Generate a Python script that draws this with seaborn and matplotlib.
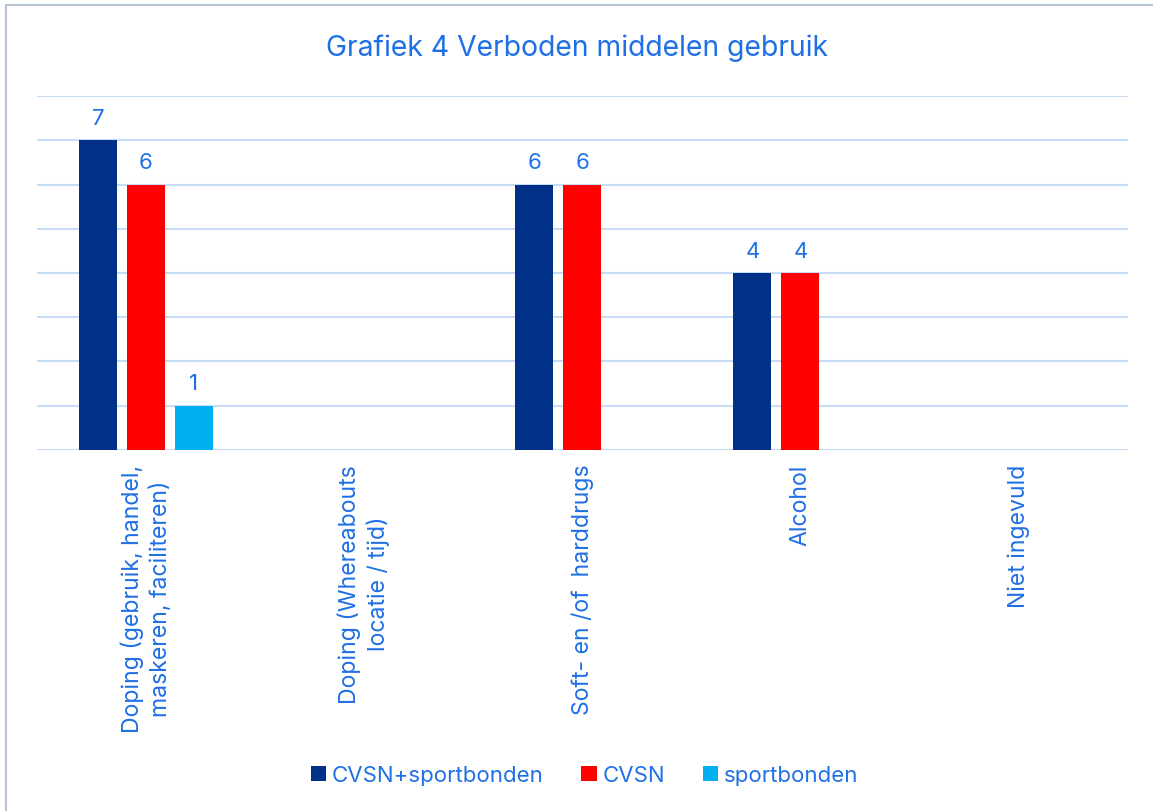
import pandas as pd
import numpy as np
import matplotlib.pyplot as plt
import seaborn as sns
from matplotlib.lines import Line2D
from matplotlib.patches import Patch

categorieen = [
    "Doping (gebruik, handel,\nmaskeren, faciliteren)",
    "Doping (Whereabouts\nlocatie / tijd)",
    "Soft- en /of  harddrugs",
    "Alcohol",
    "Niet ingevuld",
]
reeksen = ["CVSN+sportbonden", "CVSN", "sportbonden"]
cvsn_sportbonden = [7, np.nan, 6, 4, np.nan]
cvsn = [6, np.nan, 6, 4, np.nan]
sportbonden = [1, np.nan, np.nan, np.nan, np.nan]
kleuren = ["#003087", "#FF0000", "#00B0F0"]

tekstkleur = "#1F6FE6"
rasterkleur = "#C9DCF5"

df = pd.DataFrame({
    "categorie": categorieen * 3,
    "reeks": np.repeat(reeksen, len(categorieen)),
    "aantal": cvsn_sportbonden + cvsn + sportbonden,
})

sns.set_style("white")
plt.rcParams["font.family"] = ["Inter", "DejaVu Sans"]

fig = plt.figure(figsize=(11.53, 8.12), dpi=100)
ax = fig.add_axes([0.032, 0.4446, 0.946, 0.4359])

sns.barplot(data=df, x="categorie", y="aantal", hue="reeks", order=categorieen,
            hue_order=reeksen, palette=kleuren, width=0.66, gap=0.21,
            saturation=1, errorbar=None, legend=False, ax=ax, zorder=3,
            linewidth=0)

for c in ax.containers:
    ax.bar_label(c, fmt="%d", padding=9, color=tekstkleur, fontsize=16)

ax.set_ylim(0, 8)
ax.set_xlim(-0.5, len(categorieen) - 0.5)
ax.set_yticks(range(0, 9))
ax.set_yticklabels([])
ax.yaxis.grid(True, color=rasterkleur, linewidth=1.5, zorder=0)
ax.set_axisbelow(True)
for s in ax.spines.values():
    s.set_visible(False)
ax.tick_params(axis="x", length=0, pad=10, labelsize=16.6, labelcolor=tekstkleur)
ax.tick_params(axis="y", length=0)
for lbl in ax.get_xticklabels():
    lbl.set_rotation(90)
    lbl.set_multialignment("center")
    lbl.set_linespacing(1.3)
ax.set_xlabel("")
ax.set_ylabel("")

fig.text(0.5, 0.94, "Grafiek 4 Verboden middelen gebruik", ha="center", va="center",
         fontsize=20.4, color=tekstkleur)

handles = [Patch(facecolor=k, edgecolor="none") for k in kleuren]
fig.legend(handles, reeksen, loc="center", bbox_to_anchor=(0.507, 0.044), ncol=3,
           frameon=False, fontsize=16, labelcolor=tekstkleur, handlelength=0.7,
           handleheight=0.7, handletextpad=0.25, columnspacing=1.7)

# rand linksboven
fig.add_artist(Line2D([0.005, 0.005], [0.0, 0.992], color="#B8C4D6", linewidth=1.5))
fig.add_artist(Line2D([0.005, 1.0], [0.992, 0.992], color="#B8C4D6", linewidth=1.5))

fig.savefig("out.png", dpi=100)
